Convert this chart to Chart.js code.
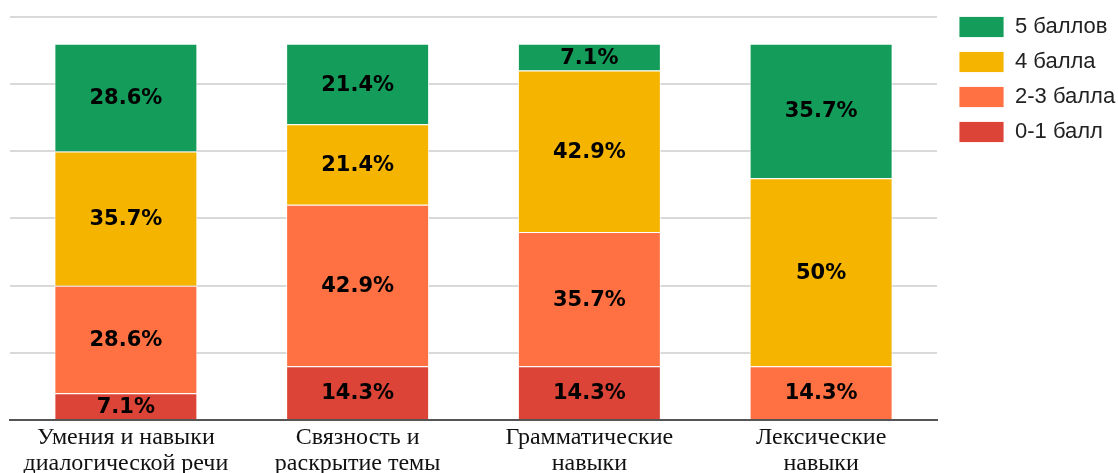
<!DOCTYPE html>
<html>
<head>
<meta charset="utf-8">
<script src="https://cdn.jsdelivr.net/npm/chart.js@4/dist/chart.umd.min.js"></script>
<style>
  html, body { margin: 0; padding: 0; background: #fff; }
  #wrap { width: 1118px; height: 473px; }
</style>
</head>
<body>
<div id="wrap"><canvas id="myChart"></canvas></div>
<script>
// категории и доли (%) по каждой оценке
const categories = [
	['Умения и навыки', 'диалогической речи'],
	['Связность и', 'раскрытие темы'],
	['Грамматические', 'навыки'],
	['Лексические', 'навыки']
];
const ball01 = [7.1, 14.3, 14.3, 0];
const ball23 = [28.6, 42.9, 35.7, 14.3];
const ball4 = [35.7, 21.4, 42.9, 50];
const ball5 = [28.6, 21.4, 7.1, 35.7];

// сетка: 0 .. 15 учеников из 14, шаг 2.5 (в процентах)
const yStep = 100 * 2.5 / 14;
const yTop = 100 * 15.52 / 14; // немного места над верхней линией сетки

const fmt = (v) => (Math.round(v * 10) / 10).toString().replace(/\.0$/, '') + '%';

// подписи внутри столбиков
const barLabels = {
	id: 'barLabels',
	afterDatasetsDraw(chart) {
		const ctx = chart.ctx;
		ctx.save();
		ctx.font = 'bold 21px "DejaVu Sans"';
		ctx.fillStyle = '#000';
		ctx.textAlign = 'center';
		ctx.textBaseline = 'middle';
		chart.data.datasets.forEach((ds, i) => {
			chart.getDatasetMeta(i).data.forEach((bar, j) => {
				const v = ds.data[j];
				if (!v) return;
				const y = (bar.y + bar.base) / 2;
				ctx.fillText(fmt(v), bar.x, y + 1);
			});
		});
		ctx.restore();
	}
};

var ctx = document.getElementById('myChart').getContext('2d');

var myChart = new Chart(ctx, {
	type: 'bar',
	data: {
		labels: categories,
		datasets: [
			{ label: '0-1 балл', data: ball01, backgroundColor: '#db4437' },
			{ label: '2-3 балла', data: ball23, backgroundColor: '#ff7043' },
			{ label: '4 балла', data: ball4, backgroundColor: '#f4b400' },
			{ label: '5 баллов', data: ball5, backgroundColor: '#139c5a' }
		]
	},
	options: {
		responsive: true,
		maintainAspectRatio: false,
		animation: false,
		datasets: {
			bar: {
				borderColor: 'rgba(255,255,255,0.85)',
				borderWidth: 1,
				barPercentage: 1,
				categoryPercentage: 0.617
			}
		},
		layout: {
			padding: { left: 10, top: 3, right: 0, bottom: 0 }
		},
		plugins: {
			legend: {
				position: 'right',
				align: 'start',
				reverse: true,
				maxWidth: 172,
				labels: {
					boxWidth: 45,
					boxHeight: 21,
					padding: 13,
					color: '#222',
					font: { family: '"Liberation Sans", Arial', size: 22 }
				}
			},
			tooltip: { enabled: false }
		},
		scales: {
			x: {
				stacked: true,
				afterFit(scale) { scale.height = 53; },
				grid: { display: false, drawTicks: false },
				border: { display: true, color: '#555', width: 2 },
				ticks: {
					padding: 5,
					color: '#111',
					font: { family: '"Liberation Serif", "Times New Roman"', size: 24, lineHeight: 1.08 },
					maxRotation: 0
				}
			},
			y: {
				stacked: true,
				position: 'right',
				min: 0,
				max: yTop,
				afterBuildTicks(scale) {
					const t = [];
					for (let i = 0; i <= 6; i++) t.push({ value: i * yStep });
					scale.ticks = t;
				},
				afterFit(scale) { scale.width = 9; },
				grid: { color: '#d9d9d9', lineWidth: 2, drawTicks: false },
				border: { display: false },
				ticks: { display: false }
			}
		}
	},
	plugins: [barLabels]
});
</script>
</body>
</html>
